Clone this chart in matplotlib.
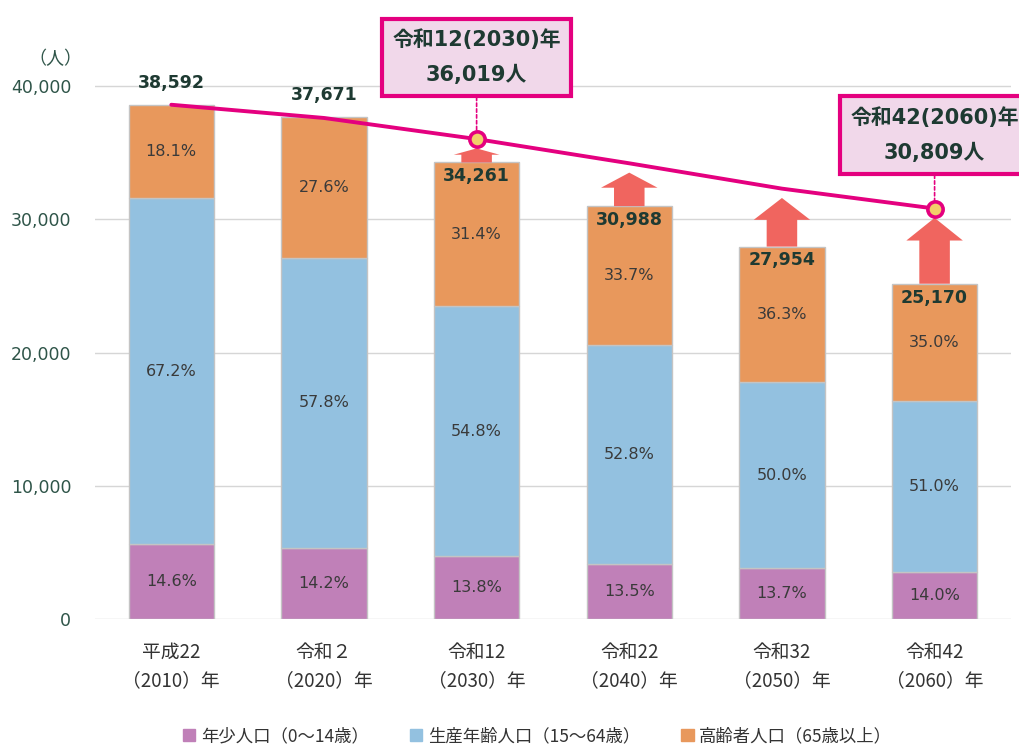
import matplotlib.pyplot as plt
from matplotlib.patches import Patch, FancyArrow

plt.rcParams['font.family'] = ['DejaVu Sans', 'Noto Sans CJK JP']

# data
years = ['平成22\n（2010）年', '令和２\n（2020）年', '令和12\n（2030）年',
         '令和22\n（2040）年', '令和32\n（2050）年', '令和42\n（2060）年']
totals = [38592, 37671, 34261, 30988, 27954, 25170]
young_pct = [14.6, 14.2, 13.8, 13.5, 13.7, 14.0]
work_pct = [67.2, 57.8, 54.8, 52.8, 50.0, 51.0]
old_pct = [18.1, 27.6, 31.4, 33.7, 36.3, 35.0]
target = [38592, 37600, 36019, 34200, 32300, 30809]
callouts = {2: '令和12(2030)年\n36,019人', 5: '令和42(2060)年\n30,809人'}
callout_offset = {2: 59, 5: 53}
legend_labels = ['年少人口（0～14歳）', '生産年齢人口（15～64歳）', '高齢者人口（65歳以上）']

c_young = '#C080B8'
c_work = '#93C1E0'
c_old = '#E8985C'
c_pink = '#E4007F'
c_arrow = '#F0655F'
c_dark = '#1E3A32'
c_axis = '#2F5549'

young = [t * p / 100 for t, p in zip(totals, young_pct)]
work = [t * p / 100 for t, p in zip(totals, work_pct)]
old = [t - a - b for t, a, b in zip(totals, young, work)]
x = list(range(len(years)))

fig = plt.figure(figsize=(10.2, 7.46), dpi=100)
ax = fig.add_axes([0.0931, 0.1698, 0.898, 0.8222])

w = 0.56
kw = dict(width=w, edgecolor='#C4C4C4', linewidth=1, zorder=2)
ax.bar(x, young, color=c_young, **kw)
ax.bar(x, work, bottom=young, color=c_work, **kw)
ax.bar(x, old, bottom=[a + b for a, b in zip(young, work)], color=c_old, **kw)

# percentage labels
for i in x:
    ax.text(i, young[i] / 2, f'{young_pct[i]:.1f}%', ha='center', va='center',
            fontsize=11.5, color='#3A3A3A', zorder=4)
    ax.text(i, young[i] + work[i] / 2, f'{work_pct[i]:.1f}%', ha='center', va='center',
            fontsize=11.5, color='#3A3A3A', zorder=4)
    ax.text(i, young[i] + work[i] + old[i] / 2, f'{old_pct[i]:.1f}%', ha='center',
            va='center', fontsize=11.5, color='#3A3A3A', zorder=4)

# arrows from bar top up to the target line
for i in x[2:]:
    tip = target[i] - 700
    length = tip - totals[i]
    hl = min(1700, 0.45 * length)
    hw = 0.37 if length > 2000 else 0.3
    ax.add_patch(FancyArrow(i, totals[i], 0, length, width=0.2, head_width=hw,
                            head_length=hl, length_includes_head=True,
                            color=c_arrow, lw=0, zorder=3))

# totals
for i in x:
    dy = 16 if i < 2 else -10
    ax.annotate(f'{totals[i]:,}', (i, totals[i]), xytext=(0, dy),
                textcoords='offset points', ha='center', va='center',
                fontsize=12.5, fontweight='bold', color=c_dark, zorder=4)

# target line
ax.plot(x, target, color=c_pink, lw=2.8, zorder=5, solid_capstyle='round')
for i, txt in callouts.items():
    ax.plot(i, target[i], 'o', ms=11, mfc='#F2CF6A', mec=c_pink, mew=2.6, zorder=6)
    ax.annotate(txt, (i, target[i]), xytext=(0, callout_offset[i]),
                textcoords='offset points',
                ha='center', va='center', fontsize=15, fontweight='bold',
                color=c_dark, linespacing=1.95, zorder=7, annotation_clip=False,
                bbox=dict(boxstyle='square,pad=0.5', fc='#F1D8EA', ec=c_pink, lw=3),
                arrowprops=dict(arrowstyle='-', color=c_pink, lw=1.2, ls=(0, (2, 1.5)),
                                shrinkA=0, shrinkB=6))

ax.set_xlim(-0.5, 5.5)
ax.set_ylim(0, 46000)
ax.set_yticks([0, 10000, 20000, 30000, 40000])
ax.set_yticklabels(['0', '10,000', '20,000', '30,000', '40,000'])
ax.set_xticks(x)
ax.set_xticklabels(years, fontsize=13.5, color='#333333', linespacing=1.45,
                   family=['Noto Sans CJK JP'])
ax.tick_params(axis='y', length=0, pad=17, labelsize=12.5, labelcolor=c_axis)
ax.tick_params(axis='x', length=0, pad=16)
for s in ax.spines.values():
    s.set_visible(False)
ax.grid(axis='y', color='#D6D6D6', lw=1, zorder=0)
ax.set_axisbelow(True)
ax.text(-0.76, 42000, '（人）', ha='center', va='center', fontsize=13,
        color=c_axis, family=['Noto Sans CJK JP'])

handles = [Patch(color=c) for c in (c_young, c_work, c_old)]
fig.legend(handles, legend_labels, loc='lower center', bbox_to_anchor=(0.527, -0.02),
           ncol=3, frameon=False, handlelength=0.7, handleheight=0.7, handletextpad=0.3,
           columnspacing=2.4, prop={'family': 'Noto Sans CJK JP', 'size': 12.5},
           labelcolor='#333333')

fig.savefig('out.png', dpi=100)
